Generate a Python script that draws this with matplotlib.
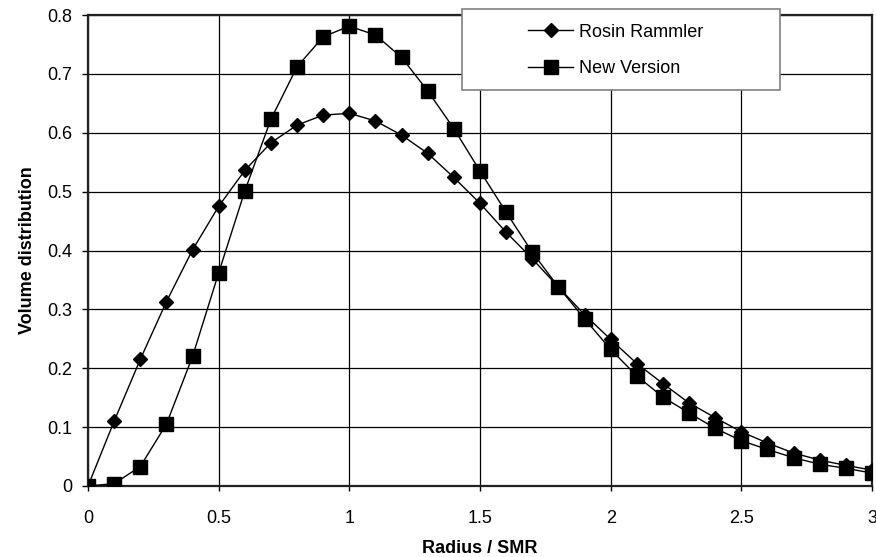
import matplotlib
matplotlib.use("Agg")
import matplotlib.pyplot as plt
from matplotlib.patches import Rectangle

##### DATA #####
radius = [0.0, 0.1, 0.2, 0.3, 0.4, 0.5, 0.6, 0.7, 0.8, 0.9, 1.0,
          1.1, 1.2, 1.3, 1.4, 1.5, 1.6, 1.7, 1.8, 1.9, 2.0,
          2.1, 2.2, 2.3, 2.4, 2.5, 2.6, 2.7, 2.8, 2.9, 3.0]
rosin_rammler = [0.0, 0.110, 0.215, 0.313, 0.401, 0.475, 0.536, 0.583, 0.613, 0.630, 0.633,
                 0.620, 0.596, 0.565, 0.524, 0.480, 0.431, 0.386, 0.338, 0.291, 0.249,
                 0.208, 0.174, 0.141, 0.116, 0.092, 0.073, 0.056, 0.044, 0.035, 0.027]
new_version = [0.0, 0.004, 0.033, 0.105, 0.220, 0.362, 0.501, 0.623, 0.712, 0.763, 0.781,
               0.766, 0.728, 0.671, 0.607, 0.535, 0.465, 0.397, 0.338, 0.284, 0.232,
               0.187, 0.151, 0.124, 0.098, 0.077, 0.062, 0.048, 0.037, 0.030, 0.022]
x_ticks = [0, 0.5, 1, 1.5, 2, 2.5, 3]
x_tick_labels = ["0", "0.5", "1", "1.5", "2", "2.5", "3"]
y_ticks = [0, 0.1, 0.2, 0.3, 0.4, 0.5, 0.6, 0.7, 0.8]
y_tick_labels = ["0", "0.1", "0.2", "0.3", "0.4", "0.5", "0.6", "0.7", "0.8"]

##### STYLE #####
W, H = 876, 557
FS = 13
plt.rcParams['font.family'] = ['Liberation Sans', 'DejaVu Sans']

fig = plt.figure(figsize=(W / 100, H / 100), dpi=100)
ax = fig.add_axes([88 / W, 1 - 486 / H, (872 - 88) / W, (486 - 15) / H])

ax.plot(radius, rosin_rammler, color='black', lw=1.0, marker='D', ms=7.3,
        mfc='black', mec='black', mew=1.0, label='Rosin Rammler', zorder=3)
ax.plot(radius, new_version, color='black', lw=1.0, marker='s', ms=10.6,
        mfc='black', mec='black', mew=1.0, label='New Version', zorder=4)

ax.set_xlim(0, 3)
ax.set_ylim(0, 0.8)
ax.set_xticks(x_ticks)
ax.set_xticklabels(x_tick_labels)
ax.set_yticks(y_ticks)
ax.set_yticklabels(y_tick_labels)
ax.grid(True, color='black', lw=0.9)
ax.set_axisbelow(True)

for s in ax.spines.values():
    s.set_linewidth(1.6)
    s.set_color('#222222')
ax.tick_params(axis='x', direction='out', length=3.6, width=1, pad=14, labelsize=FS)
ax.tick_params(axis='y', direction='out', length=4.3, width=1, pad=7, labelsize=FS)

ax.set_xlabel('Radius / SMR', fontsize=FS, fontweight='bold', labelpad=9)
ax.set_ylabel('Volume distribution', fontsize=FS, fontweight='bold', labelpad=8)

# legend box sits over the top of the plot area
box = Rectangle((462 / W, 1 - 90 / H), (780 - 462) / W, (90 - 9) / H,
                transform=fig.transFigure, facecolor='white', edgecolor='#808080',
                lw=1.2, zorder=4)
fig.patches.append(box)

handles, labels = ax.get_legend_handles_labels()
leg = fig.legend(handles, labels, loc='center left',
                 bbox_to_anchor=(527.7 / W, 1 - 50.3 / H),
                 frameon=False, fontsize=FS, borderpad=0, borderaxespad=0,
                 handlelength=2.53, handletextpad=0.32, labelspacing=1.06)
leg.set_zorder(5)

fig.savefig('out.png', dpi=100)
